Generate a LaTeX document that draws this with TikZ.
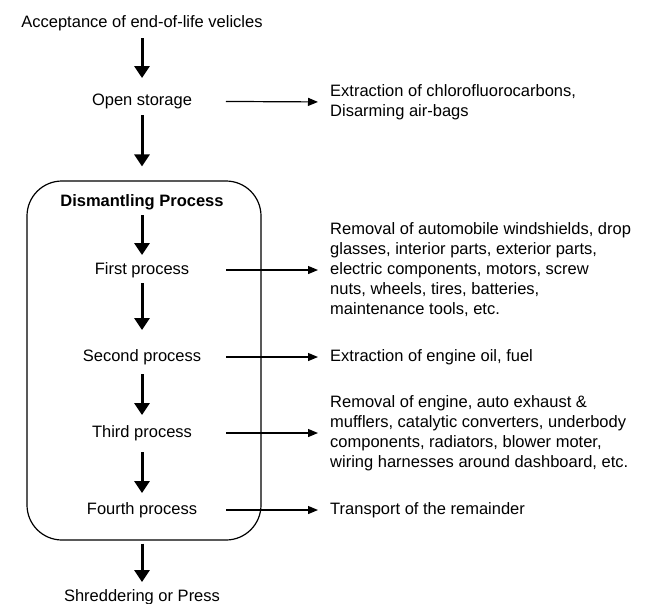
\documentclass[tikz,border=0pt]{standalone}
\usepackage{fontspec}
\setmainfont{Liberation Sans}
\usetikzlibrary{arrows.meta}
\begin{document}
\begin{tikzpicture}[x=1pt,y=-1pt,
  lbl/.style={inner sep=0pt, font=\fontsize{16.5}{20}\selectfont, text height=11pt, text depth=3pt},
  side/.style={inner sep=0pt, font=\fontsize{16.5}{20}\selectfont, anchor=west, align=left},
  bigarrow/.style={line width=3pt, -{Triangle[width=15pt,length=12pt]}},
  thinarrow/.style={line width=1.2pt, -{Triangle[width=8pt,length=10pt]}, shorten <=84pt, shorten >=12pt}]
\useasboundingbox (0,0) rectangle (655,603);
\node[lbl] (acc) at (142,23) {Acceptance of end-of-life velicles};
\node[lbl] (open) at (142,101) {Open storage};
\node[draw, line width=1.2pt, rounded corners=35pt, minimum width=234pt, minimum height=359pt, inner sep=0pt] (box) at (144,360.5) {};
\node[lbl, font=\fontsize{16.5}{20}\selectfont\bfseries] (dis) at (142,202) {Dismantling Process};
\node[lbl] (p1) at (142,270) {First process};
\node[lbl] (p2) at (142,357) {Second process};
\node[lbl] (p3) at (142,433) {Third process};
\node[lbl] (p4) at (142,510) {Fourth process};
\node[lbl] (shred) at (142,597) {Shreddering or Press};

\node[side] (r0) at (330,102) {Extraction of chlorofluorocarbons,\\Disarming air-bags};
\node[side] (r1) at (330,270) {Removal of automobile windshields, drop\\glasses, interior parts, exterior parts,\\electric components, motors, screw\\nuts, wheels, tires, batteries,\\maintenance tools, etc.};
\node[side] (r2) at (330,357) {Extraction of engine oil, fuel};
\node[side] (r3) at (330,433) {Removal of engine, auto exhaust \&\\mufflers, catalytic converters, underbody\\components, radiators, blower moter,\\wiring harnesses around dashboard, etc.};
\node[side] (r4) at (330,510) {Transport of the remainder};

\draw[bigarrow, shorten <=15pt, shorten >=23pt] (acc.center) -- (open.center);
\draw[bigarrow, shorten <=14pt, shorten >=14pt] (open.center) -- (open.center |- box.north);
\draw[bigarrow, shorten <=13pt, shorten >=15pt] (dis.center) -- (p1.center);
\draw[bigarrow, shorten <=13pt, shorten >=27pt] (p1.center) -- (p2.center);
\draw[bigarrow, shorten <=17pt, shorten >=18pt] (p2.center) -- (p3.center);
\draw[bigarrow, shorten <=19pt, shorten >=17pt] (p3.center) -- (p4.center);
\draw[bigarrow, shorten <=3pt, shorten >=15pt] (p4.center |- box.south) -- (shred.center);

\draw[thinarrow] (open.center) -- (r0.west);
\draw[thinarrow] (p1.center) -- (r1.west);
\draw[thinarrow] (p2.center) -- (r2.west);
\draw[thinarrow] (p3.center) -- (r3.west);
\draw[thinarrow] (p4.center) -- (r4.west);
\end{tikzpicture}
\end{document}
